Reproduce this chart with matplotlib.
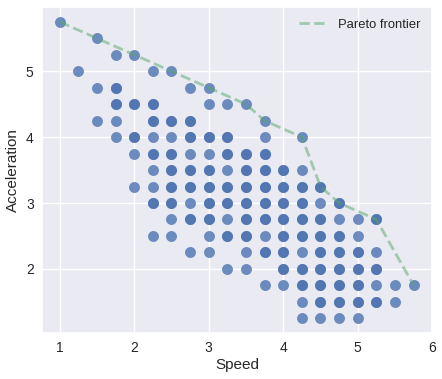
import numpy as np
import matplotlib.pyplot as plt
import seaborn as sns

# acceleration levels (one row of points per level)
accel_levels = [5.75, 5.5, 5.25, 5.0, 4.75, 4.5, 4.25, 4.0, 3.75, 3.5,
                3.25, 3.0, 2.75, 2.5, 2.25, 2.0, 1.75, 1.5, 1.25]

# speeds at each level; a repeated value means two cars share that point
speeds_per_level = [
    [1.0],
    [1.5],
    [1.75, 2.0],
    [1.25, 2.25, 2.5],
    [1.5, 1.75, 1.75, 2.75, 3.0],
    [1.75, 1.75, 2.0, 2.0, 2.25, 2.25, 3.0, 3.25, 3.5],
    [1.5, 1.75, 2.25, 2.25, 2.5, 2.5, 2.75, 2.75, 3.75],
    [1.75, 2.0, 2.0, 2.25, 2.5, 2.75, 2.75, 3.0, 3.0, 3.25, 3.25, 3.75, 4.25],
    [2.0, 2.25, 2.25, 2.5, 2.5, 2.75, 3.0, 3.25, 3.25, 3.5, 3.5, 3.75, 3.75],
    [2.25, 2.5, 2.5, 2.75, 2.75, 3.0, 3.0, 3.25, 3.5, 3.5, 3.75, 3.75,
     4.0, 4.0, 4.25],
    [2.0, 2.25, 2.5, 2.5, 2.75, 2.75, 3.0, 3.0, 3.25, 3.25, 3.5, 3.5,
     3.75, 3.75, 4.0, 4.0, 4.25, 4.25, 4.5, 4.5],
    [2.25, 2.25, 2.5, 2.5, 2.75, 3.0, 3.0, 3.25, 3.25, 3.5, 3.5, 3.75, 3.75,
     4.0, 4.0, 4.25, 4.25, 4.5, 4.75, 4.75],
    [2.5, 2.75, 2.75, 3.0, 3.0, 3.25, 3.5, 3.5, 3.75, 3.75, 4.0, 4.0,
     4.25, 4.25, 4.5, 4.5, 4.75, 5.0, 5.25, 5.25],
    [2.25, 2.5, 3.0, 3.25, 3.25, 3.5, 3.5, 3.75, 4.0, 4.0, 4.25, 4.25,
     4.5, 4.5, 4.75, 4.75, 5.0],
    [2.75, 3.0, 3.5, 3.75, 3.75, 4.0, 4.0, 4.25, 4.5, 4.5, 4.75, 4.75,
     5.0, 5.0, 5.25],
    [3.25, 3.5, 4.0, 4.0, 4.25, 4.25, 4.5, 4.5, 4.75, 4.75, 5.0, 5.0,
     5.25, 5.25],
    [3.75, 4.0, 4.25, 4.25, 4.5, 4.5, 4.75, 4.75, 5.0, 5.0, 5.25, 5.5, 5.75],
    [4.25, 4.5, 4.5, 4.75, 4.75, 5.0, 5.0, 5.25, 5.25, 5.5],
    [4.25, 4.5, 4.75, 5.0],
]

# Pareto frontier
front_speed = [1.0, 1.5, 2.0, 2.5, 3.0, 3.5, 3.75, 4.25, 4.5, 4.75, 5.25, 5.75]
front_accel = [5.75, 5.5, 5.25, 5.0, 4.75, 4.5, 4.25, 4.0, 3.25, 3.0, 2.75, 1.75]

speed = np.concatenate([np.array(s) for s in speeds_per_level])
accel = np.concatenate([[a] * len(s) for a, s in zip(accel_levels, speeds_per_level)])

sns.set_theme(style='darkgrid')
plt.rcParams['font.family'] = ['Liberation Sans', 'DejaVu Sans']

fig, ax = plt.subplots(figsize=(4.42, 3.79), dpi=100)
fig.subplots_adjust(left=0.095, right=0.978, top=0.9815, bottom=0.121)

ax.scatter(speed, accel, s=62, alpha=0.8, color='#4C72B0', linewidths=0)
ax.plot(front_speed, front_accel, '--', color='#55A868', alpha=0.5, lw=2,
        label='Pareto frontier')

ax.set_xlim(0.7625, 6.0)
ax.set_xlabel('Speed', fontsize=11, labelpad=2)
ax.set_ylabel('Acceleration', fontsize=11)
ax.tick_params(labelsize=10, length=0, pad=6)
ax.legend(frameon=False, fontsize=9.4, loc='upper right', handlelength=2.2)

fig.savefig('out.png', dpi=100)
